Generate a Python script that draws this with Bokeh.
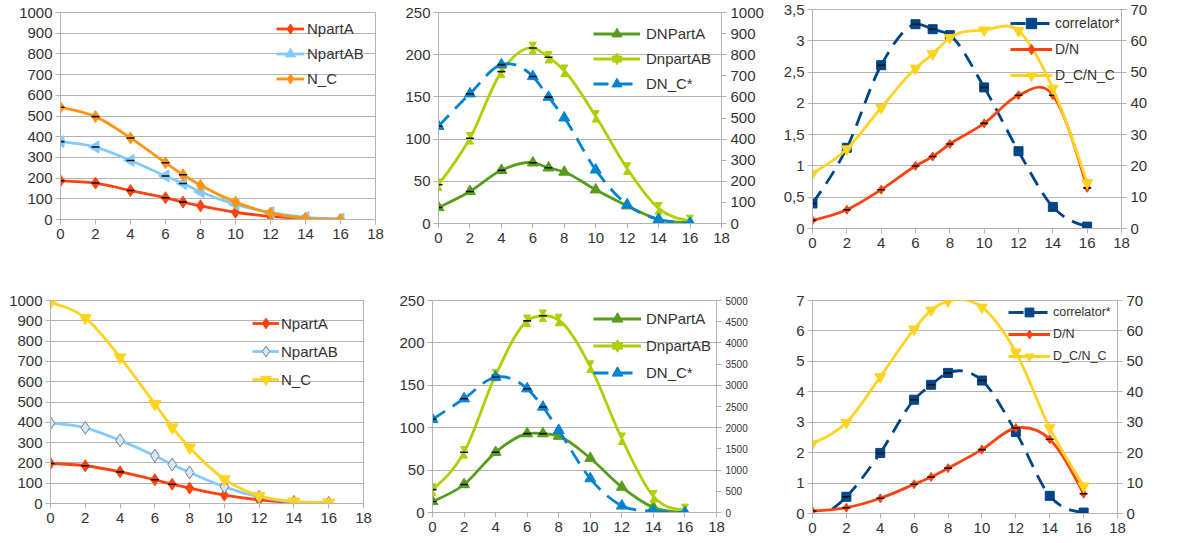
import numpy as np
from bokeh.plotting import figure
from bokeh.layouts import row, column
from bokeh.models import (Range1d, LinearAxis, SingleIntervalTicker, FixedTicker, Legend,
                          LegendItem, ColumnDataSource, CustomJSTickFormatter)
from bokeh.transform import dodge
from bokeh.embed import file_html
from bokeh.resources import INLINE

# ---------------- data ----------------
X = [0, 2, 4, 6, 7, 8, 10, 12, 14, 16]
X_TICKS = [0, 2, 4, 6, 8, 10, 12, 14, 16, 18]

# panel 1
p1_npartA = [187, 176, 140, 105, 84, 66, 35, 15, 5, 0]
p1_npartAB = [376, 350, 285, 210, 174, 134, 73, 34, 10, 2]
p1_nc = [542, 497, 394, 274, 216, 165, 84, 31, 6, 0]
p1_err_x = [0, 2, 4, 6, 7]

# panel 2
p2_dnpartA = [19, 38, 63, 72, 66, 61, 40, 21, 5, 1]
p2_dnpartAB = [46, 101, 180, 208, 197, 181, 127, 65, 18, 3]
p2_dnc = [461, 615, 753, 697, 599, 501, 254, 89, 19, 2]
p2_err_x = [0, 2, 4, 6, 7]

# panel 3
p3_corr = [8.0, 25.8, 52.2, 65.3, 63.7, 61.8, 45.1, 24.7, 6.9, 0.6]
p3_dn = [0.13, 0.30, 0.62, 1.0, 1.15, 1.35, 1.68, 2.13, 2.13, 0.65]
p3_dcnc = [0.88, 1.27, 1.93, 2.56, 2.79, 3.05, 3.17, 3.16, 2.24, 0.73]
p3_corr_err_x = [0, 2, 4, 6, 7, 8, 10]
p3_dn_err_x = X

# panel 4
p4_npartA = [197, 186, 156, 117, 95, 76, 41, 18, 5, 0]
p4_npartAB = [396, 373, 311, 235, 192, 153, 82, 33, 8, 3]
p4_nc = [990, 914, 720, 490, 375, 276, 120, 38, 10, 5]
p4_err_x = [0, 2, 4, 6, 7]

# panel 5
p5_dnpartA = [13, 33, 71, 93, 93, 90, 64, 30, 6, 0]
p5_dnpartAB = [27, 71, 162, 226, 232, 227, 172, 87, 19, 3]
p5_dnc = [2198, 2684, 3195, 2920, 2488, 1939, 800, 157, 31, 0]
p5_err_x = [0, 2, 4, 6, 7]

# panel 6
p6_corr = [-3, 5.5, 19.9, 37.4, 42.3, 46.2, 43.7, 26.8, 5.8, 0.3]
p6_dn = [0.08, 0.19, 0.50, 0.96, 1.20, 1.49, 2.10, 2.81, 2.44, 0.65]
p6_dcnc = [2.30, 2.99, 4.49, 6.06, 6.68, 6.98, 6.78, 5.30, 2.81, 0.90]
p6_corr_err_x = [2, 4, 6, 7, 8, 10]
p6_dn_err_x = X

# ---------------- style ----------------
FONT = "Liberation Sans"
GRID = "#b3b3b3"
TXT = "#333333"
RED = "#ff420e"
LBLUE = "#83caff"
ORANGE = "#ff950e"
GREEN = "#579d1c"
LIME = "#aecf00"
BLUE = "#0084d1"
NAVY = "#004586"
YELLOW = "#ffd320"
LW = 2.8
DASH = "15 9"


def style_axis(ax, size="15px"):
    ax.axis_line_color = GRID
    ax.major_tick_line_color = GRID
    ax.minor_tick_line_color = None
    ax.major_tick_out = 5
    ax.major_tick_in = 0
    ax.major_label_text_font = FONT
    ax.major_label_text_font_size = size
    ax.major_label_text_color = TXT


def make_fig(fw, fh, left, right, top, bottom, ymax, ystep, right_max=None, right_step=None,
             right_size="15px", left_fmt=None):
    p = figure(frame_width=fw, frame_height=fh, min_border_left=left, min_border_right=right,
               min_border_top=top, min_border_bottom=bottom,
               x_range=Range1d(0, 18), y_range=Range1d(0, ymax),
               output_backend="svg", toolbar_location=None, title=None)
    if "frame_align" in p.properties():
        p.frame_align = False
    p.background_fill_color = "white"
    p.border_fill_color = "white"
    p.outline_line_color = GRID
    p.xgrid.visible = False
    p.ygrid.grid_line_color = GRID
    p.ygrid.grid_line_width = 1
    p.xaxis.ticker = FixedTicker(ticks=X_TICKS)
    p.yaxis.ticker = SingleIntervalTicker(interval=ystep, num_minor_ticks=0)
    p.ygrid.ticker = SingleIntervalTicker(interval=ystep, num_minor_ticks=0)
    style_axis(p.xaxis[0])
    style_axis(p.yaxis[0])
    p.xaxis.major_label_standoff = 4
    p.yaxis.major_label_standoff = 3
    if left_fmt is not None:
        p.yaxis.formatter = left_fmt
    if right_max is not None:
        p.extra_y_ranges = {"r": Range1d(0, right_max)}
        ax = LinearAxis(y_range_name="r",
                        ticker=SingleIntervalTicker(interval=right_step, num_minor_ticks=0))
        style_axis(ax, right_size)
        ax.major_label_standoff = 4
        p.add_layout(ax, "right")
    return p


def spline(p, xs, ys, color, dash="solid", rng="default"):
    x = np.asarray(xs, float)
    y = np.asarray(ys, float)
    h = np.diff(x)
    d = np.diff(y) / h
    m = np.zeros_like(y)
    m[1:-1] = (d[:-1] * h[1:] + d[1:] * h[:-1]) / (h[:-1] + h[1:])
    m[0] = 1.5 * d[0] - 0.5 * m[1]
    m[-1] = 1.5 * d[-1] - 0.5 * m[-2]
    src = ColumnDataSource(dict(x0=x[:-1], y0=y[:-1], x1=x[1:], y1=y[1:],
                                cx0=x[:-1] + h / 3, cy0=y[:-1] + m[:-1] * h / 3,
                                cx1=x[1:] - h / 3, cy1=y[1:] - m[1:] * h / 3))
    return p.bezier(x0="x0", y0="y0", x1="x1", y1="y1", cx0="cx0", cy0="cy0",
                    cx1="cx1", cy1="cy1", source=src, line_color=color, line_width=LW,
                    line_dash=dash, y_range_name=rng)


def marks(p, xs, ys, marker, color, size, angle=0.0, line_color=None, rng="default"):
    return p.scatter(xs, ys, marker=marker, size=size, fill_color=color,
                     line_color=line_color or color, line_width=1, angle=angle,
                     y_range_name=rng)


def hourglass(p, xs, ys, color, size, off, rng="default"):
    src = ColumnDataSource(dict(x=xs, y=ys))
    a = p.scatter("x", dodge("y", off), source=src, marker="inverted_triangle", size=size,
                  fill_color=color, line_color=color, y_range_name=rng)
    b = p.scatter("x", dodge("y", -off), source=src, marker="triangle", size=size,
                  fill_color=color, line_color=color, y_range_name=rng)
    return [a, b]


def err(p, xs, ys, err_x, rng="default"):
    ex = [x for x in xs if x in err_x]
    ey = [y for x, y in zip(xs, ys) if x in err_x]
    p.scatter(ex, ey, marker="dash", size=8, line_color="#111111", line_width=1.6,
              y_range_name=rng)


def legend(p, items, vx, vy, gw, ih, standoff, size="15px"):
    lg = Legend(items=[LegendItem(label=l, renderers=r) for l, r in items],
                location=(vx, vy), glyph_width=gw, glyph_height=ih, label_height=ih,
                spacing=0, padding=0, margin=0, label_standoff=standoff,
                border_line_color=None, background_fill_alpha=0,
                label_text_font=FONT, label_text_font_size=size,
                label_text_color=TXT, label_text_baseline="middle")
    p.add_layout(lg)


# ---------------- panel 1 ----------------
f1 = make_fig(315, 207, 60, 15, 12, 43, 1000, 100)
l = spline(f1, X, p1_npartA, RED)
m = marks(f1, X, p1_npartA, "diamond", RED, 12)
err(f1, X, p1_npartA, p1_err_x)
r1 = [l, m]
l = spline(f1, X, p1_npartAB, LBLUE)
m = marks(f1, X, p1_npartAB, "triangle", LBLUE, 12, np.pi / 2)
err(f1, X, p1_npartAB, p1_err_x)
r2 = [l, m]
l = spline(f1, X, p1_nc, ORANGE)
m = marks(f1, X, p1_nc, "diamond", ORANGE, 12)
err(f1, X, p1_nc, p1_err_x)
r3 = [l, m]
legend(f1, [("NpartA", r1), ("NpartAB", r2), ("N_C", r3)], 216, 128, 28, 25, 3)

# ---------------- panel 2 ----------------
f2 = make_fig(283, 211, 48, 59, 12, 39, 250, 50, 1000, 100)
HG2 = 3.75 * 250 / 211
l = spline(f2, X, p2_dnpartA, GREEN)
m = marks(f2, X, p2_dnpartA, "triangle", GREEN, 11)
err(f2, X, p2_dnpartA, p2_err_x)
r1 = [l, m]
l = spline(f2, X, p2_dnpartAB, LIME)
hg = hourglass(f2, X, p2_dnpartAB, LIME, 7, HG2)
err(f2, X, p2_dnpartAB, p2_err_x)
r2 = [l] + hg
l = spline(f2, X, p2_dnc, BLUE, DASH, "r")
m = marks(f2, X, p2_dnc, "triangle", BLUE, 11, rng="r")
err(f2, X, p2_dnc, p2_err_x, "r")
r3 = [l, m]
legend(f2, [("DNPartA", r1), ("DnpartAB", r2), ("DN_C*", r3)], 155, 127, 47, 25, 6)

# ---------------- panel 3 ----------------
comma = CustomJSTickFormatter(code="return tick.toString().replace('.', ',')")
f3 = make_fig(309, 219, 32, 57, 9, 34, 3.5, 0.5, 70, 10, left_fmt=comma)
l = spline(f3, X, p3_corr, NAVY, DASH, "r")
m = marks(f3, X, p3_corr, "square", NAVY, 9, rng="r")
err(f3, X, p3_corr, p3_corr_err_x, "r")
r1 = [l, m]
l = spline(f3, X, p3_dn, RED)
m = marks(f3, X, p3_dn, "diamond", RED, 9)
err(f3, X, p3_dn, p3_dn_err_x)
r2 = [l, m]
l = spline(f3, X, p3_dcnc, YELLOW)
m = marks(f3, X, p3_dcnc, "inverted_triangle", YELLOW, 11)
r3 = [l, m]
legend(f3, [("correlator*", r1), ("D/N", r2), ("D_C/N_C", r3)], 198, 140, 42, 26, 3, "14px")

# ---------------- panel 4 ----------------
f4 = make_fig(313, 203, 50, 27, 38, 39, 1000, 100)
l = spline(f4, X, p4_npartA, RED)
m = marks(f4, X, p4_npartA, "diamond", RED, 12)
err(f4, X, p4_npartA, p4_err_x)
r1 = [l, m]
l = spline(f4, X, p4_npartAB, LBLUE)
m = marks(f4, X, p4_npartAB, "diamond", "#d4e8f4", 13, line_color="#808080")
r2 = [l, m]
l = spline(f4, X, p4_nc, YELLOW)
m = marks(f4, X, p4_nc, "inverted_triangle", YELLOW, 12)
r3 = [l, m]
legend(f4, [("NpartA", r1), ("NpartAB", r2), ("N_C", r3)], 202, 110, 27, 28, 2)

# ---------------- panel 5 ----------------
f5 = make_fig(284, 212, 42, 64, 38, 30, 250, 50, 5000, 500, right_size="10px")
HG5 = 3.75 * 250 / 212
l = spline(f5, X, p5_dnpartA, GREEN)
m = marks(f5, X, p5_dnpartA, "triangle", GREEN, 11)
err(f5, X, p5_dnpartA, p5_err_x)
r1 = [l, m]
l = spline(f5, X, p5_dnpartAB, LIME)
hg = hourglass(f5, X, p5_dnpartAB, LIME, 7, HG5)
err(f5, X, p5_dnpartAB, p5_err_x)
r2 = [l] + hg
l = spline(f5, X, p5_dnc, BLUE, DASH, "r")
m = marks(f5, X, p5_dnc, "triangle", BLUE, 11, rng="r")
err(f5, X, p5_dnc, p5_err_x, "r")
r3 = [l, m]
legend(f5, [("DNPartA", r1), ("DnpartAB", r2), ("DN_C*", r3)], 161, 126, 48, 27, 5)

# ---------------- panel 6 ----------------
f6 = make_fig(305, 213, 32, 61, 38, 29, 7, 1, 70, 10)
l = spline(f6, X, p6_corr, NAVY, DASH, "r")
m = marks(f6, X, p6_corr, "square", NAVY, 9, rng="r")
err(f6, X, p6_corr, p6_corr_err_x, "r")
r1 = [l, m]
l = spline(f6, X, p6_dn, RED)
m = marks(f6, X, p6_dn, "diamond", RED, 9)
err(f6, X, p6_dn, p6_dn_err_x)
r2 = [l, m]
l = spline(f6, X, p6_dcnc, YELLOW)
m = marks(f6, X, p6_dcnc, "inverted_triangle", YELLOW, 11)
r3 = [l, m]
legend(f6, [("correlator*", r1), ("D/N", r2), ("D_C/N_C", r3)], 196, 146, 42, 22, 3, "12.5px")

layout = column(row(f1, f2, f3), row(f4, f5, f6))
open("out.html", "w").write(file_html(layout, INLINE))
